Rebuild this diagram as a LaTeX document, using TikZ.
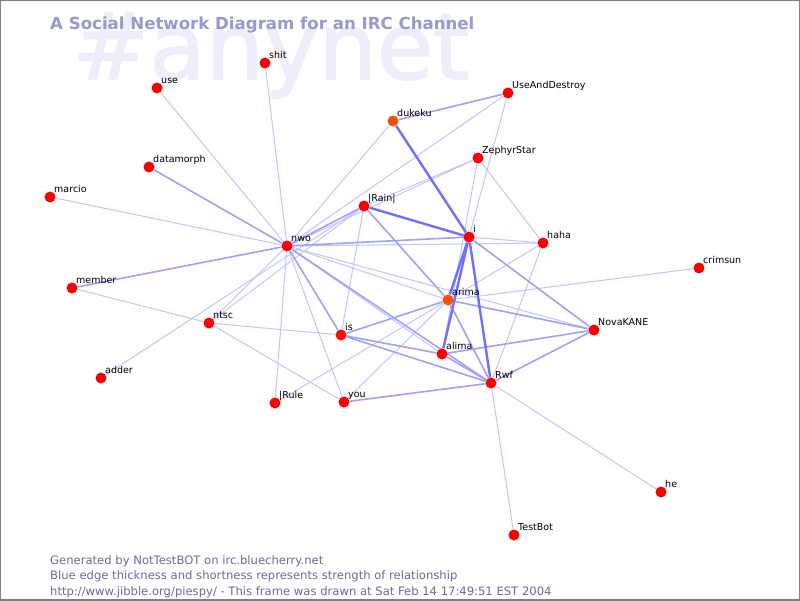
\documentclass[tikz,border=0pt]{standalone}
\usepackage{fontspec}
\setmainfont{DejaVu Sans}
\newfontfamily\bigfont[FakeBold=1.6]{DejaVu Sans}
\usetikzlibrary{backgrounds}
\definecolor{edgeA}{HTML}{C4C4FF}
\definecolor{edgeB}{HTML}{A0A0FF}
\definecolor{edgeC}{HTML}{7070FF}
\definecolor{titlec}{HTML}{9999CC}
\definecolor{footc}{HTML}{6A6AA0}
\definecolor{bigc}{HTML}{EEEEFB}
\definecolor{nodered}{HTML}{FF0000}
\definecolor{nodeor}{HTML}{FF5000}
\tikzset{
  dot/.style={circle,fill=nodered,draw=none,minimum size=11pt,inner sep=0pt},
  lbl/.style={font=\fontsize{9.5}{10}\selectfont,text=black,inner sep=0pt,anchor=base west},
  ethin/.style={draw=edgeA,line width=1pt},
  emed/.style={draw=edgeB,line width=1.6pt},
  ethick/.style={draw=edgeC,line width=2.4pt},
  txt/.style={inner sep=0pt,anchor=base west}
}
\begin{document}
\begin{tikzpicture}[x=1pt,y=-1pt]
\useasboundingbox (0,0) rectangle (800,600);
% nodes
\foreach \n/\x/\y/\t in {shit/265/63/shit, use/157/88/use, datamorph/149/167/datamorph, marcio/50/197/marcio,
  member/72/288/member, adder/101/378/adder, ntsc/209/323/ntsc, nwo/287/246/nwo, rain/364/206/|Rain|,
  uad/508/93/UseAndDestroy, zeph/478/158/ZephyrStar, i/469/237/i, haha/543/243/haha,
  crimsun/699/268/crimsun, alima/442/354/alima, rwf/491/383/Rwf, nova/594/330/NovaKANE,
  rule/275/403/|Rule, you/344/402/you, he/661/492/he, testbot/514/535/TestBot}
  {\node[dot,label={[lbl]north east:\t}] (\n) at (\x,\y) {};}
\node[dot,fill=nodeor,label={[lbl]north east:dukeku}] (dukeku) at (393,121) {};
\node[dot,fill=nodeor,label={[lbl]north east:arima}] (arima) at (448,300) {};
\node[dot,fill=red!90!orange,label={[lbl]north east:is}] (is) at (341,335) {};
% background, big text and edges
\begin{scope}[on background layer]
\fill[white] (0,0) rectangle (800,600);
\node[txt,text=bigc,font=\bigfont\fontsize{92}{92}\selectfont] (big) at (72,79) {\#anynet};
\node[txt,text=titlec,font=\bfseries\fontsize{16.6}{16.6}\selectfont] (title) at (50,29) {A Social Network Diagram for an IRC Channel};
\foreach \a/\b in {nwo/shit, nwo/use, nwo/marcio, nwo/dukeku, nwo/uad, nwo/zeph, nwo/haha, nwo/arima,
  nwo/nova, nwo/you, nwo/rule, nwo/ntsc, nwo/alima, member/ntsc, adder/rain, ntsc/rain, ntsc/is, ntsc/you,
  rain/is, uad/i, zeph/haha, zeph/alima, i/haha, haha/arima, haha/rwf, arima/crimsun, arima/you,
  arima/rule, rwf/he, rwf/testbot, zeph/rain}
  {\draw[ethin] (\a) -- (\b);}
\foreach \a/\b in {nwo/datamorph, nwo/member, nwo/rain, nwo/i, nwo/is, nwo/rwf, dukeku/uad, rain/arima,
  i/nova, arima/is, arima/nova, arima/rwf, is/alima, is/rwf, alima/nova, rwf/nova, you/rwf, alima/rwf}
  {\draw[emed] (\a) -- (\b);}
\foreach \a/\b in {dukeku/i, rain/i, i/arima, i/alima, i/rwf}
  {\draw[ethick] (\a) -- (\b);}
\end{scope}
\node[txt,text=footc,font=\fontsize{11.6}{12}\selectfont] (f1) at (50,564) {Generated by NotTestBOT on irc.bluecherry.net};
\node[txt,text=footc,font=\fontsize{11.6}{12}\selectfont] (f2) at (50,579.5) {Blue edge thickness and shortness represents strength of relationship};
\node[txt,text=footc,font=\fontsize{11.6}{12}\selectfont] (f3) at (50,595) {http://www.jibble.org/piespy/ - This frame was drawn at Sat Feb 14 17:49:51 EST 2004};
\draw[gray,line width=1.5pt] (0,0) rectangle (800,600);
\end{tikzpicture}
\end{document}
